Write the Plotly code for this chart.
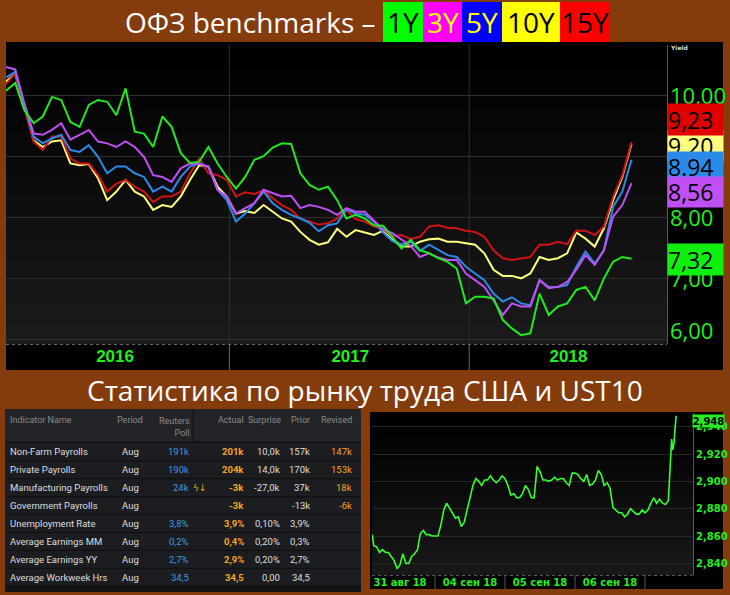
import plotly.graph_objects as go
import pandas as pd

W, H = 730, 595
def fx(x): return x / W
def fy(y): return 1 - y / H

# ---------------- OFZ benchmark yields (every 14 days) ----------------
ofz_start = "2016-01-27"
y1 = [10.07, 10.20, 9.75, 9.54, 9.65, 9.97, 9.92, 9.56, 9.48, 9.84,
      9.92, 9.89, 9.67, 10.11, 9.40, 9.37, 9.15, 9.65, 9.48, 9.05,
      8.89, 8.91, 9.15, 8.88, 8.66, 8.47, 8.66, 8.94, 9.00, 9.14,
      9.21, 9.20, 8.72, 8.53, 8.45, 8.50, 8.28, 7.98, 8.04, 7.98,
      7.87, 7.86, 7.68, 7.49, 7.63, 7.46, 7.41, 7.33, 7.27, 7.16,
      6.59, 6.70, 6.70, 6.67, 6.32, 6.18, 6.07, 6.10, 6.75, 6.40,
      6.54, 6.59, 6.81, 6.86, 6.64, 7.00, 7.27, 7.35, 7.32]
y3 = [10.46, 10.42, 9.86, 9.37, 9.35, 9.43, 9.54, 9.27, 9.35, 9.43,
      9.24, 9.21, 9.15, 9.24, 9.15, 8.99, 8.69, 8.66, 8.58, 8.80,
      8.88, 8.87, 8.83, 8.45, 8.34, 8.06, 8.15, 8.23, 8.45, 8.39,
      8.34, 8.35, 8.15, 8.20, 8.17, 8.12, 8.04, 8.15, 8.09, 8.09,
      7.95, 7.80, 7.74, 7.63, 7.53, 7.35, 7.41, 7.34, 7.30, 7.30,
      7.08, 6.97, 6.86, 6.64, 6.40, 6.59, 6.54, 6.54, 6.97, 6.84,
      6.86, 6.94, 7.14, 7.38, 7.22, 7.46, 8.01, 8.20, 8.56]
y5 = [10.29, 10.38, 9.84, 9.32, 9.21, 9.29, 9.35, 9.10, 9.07, 9.18,
      8.99, 8.72, 8.83, 8.83, 8.72, 8.66, 8.42, 8.50, 8.42, 8.66,
      8.83, 8.88, 8.83, 8.45, 8.28, 7.93, 8.06, 8.23, 8.42, 8.23,
      8.12, 8.04, 7.98, 7.91, 7.77, 7.87, 7.90, 8.13, 8.06, 8.04,
      7.93, 7.75, 7.61, 7.56, 7.60, 7.45, 7.55, 7.46, 7.38, 7.35,
      7.19, 7.08, 6.97, 6.75, 6.62, 6.69, 6.59, 6.56, 6.97, 6.86,
      6.86, 6.89, 7.19, 7.44, 7.24, 7.46, 8.17, 8.42, 8.94]
y10 = [10.22, 10.35, 9.81, 9.26, 9.15, 9.24, 9.26, 8.88, 8.85, 8.87,
       8.64, 8.28, 8.42, 8.61, 8.42, 8.34, 8.12, 8.20, 8.17, 8.34,
       8.61, 8.85, 8.83, 8.50, 8.34, 8.06, 8.10, 8.07, 8.20, 8.09,
       7.98, 7.93, 7.76, 7.63, 7.55, 7.59, 7.81, 7.68, 7.79, 7.75,
       7.71, 7.78, 7.63, 7.52, 7.52, 7.60, 7.64, 7.65, 7.60, 7.60,
       7.58, 7.55, 7.41, 7.14, 7.04, 7.04, 7.00, 7.08, 7.35, 7.30,
       7.33, 7.41, 7.75, 7.65, 7.52, 7.82, 8.28, 8.66, 9.20]
y15 = [10.18, 10.35, 9.81, 9.24, 9.10, 9.32, 9.32, 8.96, 8.88, 8.88,
       8.69, 8.42, 8.55, 8.61, 8.50, 8.42, 8.25, 8.34, 8.34, 8.42,
       8.72, 8.96, 8.72, 8.69, 8.61, 8.34, 8.41, 8.38, 8.44, 8.31,
       8.20, 8.12, 7.98, 7.93, 7.88, 7.90, 7.98, 8.12, 7.97, 7.93,
       7.85, 7.80, 7.69, 7.71, 7.64, 7.68, 7.85, 7.87, 7.83, 7.82,
       7.78, 7.76, 7.68, 7.46, 7.33, 7.30, 7.33, 7.35, 7.55, 7.55,
       7.60, 7.56, 7.78, 7.78, 7.71, 7.85, 8.34, 8.69, 9.23]
ofz_dates = pd.date_range(ofz_start, periods=len(y1), freq="14D")

year_tick_dates = ["2016-07-11", "2017-07-04", "2018-06-01"]
year_tick_text = ["2016", "2017", "2018"]
year_bounds = ["2017-01-01", "2018-01-01"]
yield_ticks = [6, 7, 8, 9, 10]
last_text = ["9.20", "9,23", "8.94", "8,56", "7,32"]

# ---------------- UST10 intraday yield ----------------
aug31 = [2.861, 2.853, 2.852, 2.848, 2.850, 2.848, 2.848, 2.845, 2.842, 2.836, 2.839,
         2.847, 2.840, 2.840, 2.845, 2.847, 2.850, 2.862, 2.864, 2.861, 2.861, 2.860]
sep04 = [2.860, 2.860, 2.868, 2.879, 2.884, 2.880, 2.877, 2.873, 2.874, 2.867, 2.870, 2.879,
         2.888, 2.897, 2.902, 2.900, 2.897, 2.901, 2.901, 2.904, 2.901, 2.899, 2.901, 2.904]
sep05 = [2.902, 2.897, 2.890, 2.891, 2.888, 2.888, 2.891, 2.897, 2.894, 2.888, 2.888, 2.911,
         2.907, 2.901, 2.901, 2.900, 2.901, 2.903, 2.901, 2.902, 2.902, 2.899, 2.897, 2.906]
sep06 = [2.906, 2.905, 2.902, 2.900, 2.905, 2.897, 2.898, 2.901, 2.908, 2.905, 2.897, 2.899,
         2.895, 2.881, 2.879, 2.877, 2.877, 2.874, 2.876, 2.880, 2.878, 2.876, 2.876, 2.879]
sep07 = [2.877, 2.879, 2.884, 2.888, 2.884, 2.887, 2.884, 2.883, 2.886, 2.901, 2.923,
         2.931, 2.923, 2.928, 2.938, 2.948]
aug31_times = ["02:30"] + [f"{h:02d}:00" for h in range(3, 24)]
full_day_times = [f"{h:02d}:00" for h in range(24)]
sep07_times = [f"{h:02d}:00" for h in range(8)] + ["08:00", "08:20", "08:48", "09:08",
                                                   "09:29", "09:56", "10:17", "10:40"]
ust_times = ([f"2018-08-31 {t}" for t in aug31_times]
             + [f"2018-09-04 {t}" for t in full_day_times]
             + [f"2018-09-05 {t}" for t in full_day_times]
             + [f"2018-09-06 {t}" for t in full_day_times]
             + [f"2018-09-07 {t}" for t in sep07_times])
ust_vals = aug31 + sep04 + sep05 + sep06 + sep07
ust_day_ticks = ["2018-08-31 12:00", "2018-09-04 12:00", "2018-09-05 12:00", "2018-09-06 12:00"]
ust_day_text = ["31 авг 18", "04 сен 18", "05 сен 18", "06 сен 18"]
ust_day_bounds = ["2018-09-04", "2018-09-05", "2018-09-06", "2018-09-07"]
ust_ticks = [2.84, 2.86, 2.88, 2.90, 2.92, 2.94]
ust_last = "2,948"

# ---------------- US payrolls table ----------------
col_headers = ["Indicator Name", "Period", "Reuters<br>Poll", "Actual", "Surprise", "Prior", "Revised"]
indicators = ["Non-Farm Payrolls", "Private Payrolls", "Manufacturing Payrolls", "Government Payrolls",
              "Unemployment Rate", "Average Earnings MM", "Average Earnings YY", "Average Workweek Hrs"]
period = ["Aug"] * 8
poll = ["191k", "190k", "24k", "", "3,8%", "0,2%", "2,7%", "34,5"]
actual = ["201k", "204k", "-3k", "-3k", "3,9%", "0,4%", "2,9%", "34,5"]
surprise = ["10,0k", "14,0k", "-27,0k", "", "0,10%", "0,20%", "0,20%", "0,00"]
prior = ["157k", "170k", "37k", "-13k", "3,9%", "0,3%", "2,7%", "34,5"]
revised = ["147k", "153k", "18k", "-6k", "", "", "", ""]
alert_row = 2
alert_icon = "ϟ↓"

BROWN = "#843C0C"
GREEN = "#22ee22"
TITLE_FONT = "Open Sans, Noto Sans, sans-serif"
TABLE_FONT = "Roboto, Liberation Sans, sans-serif"
BOLD_FONT = "DejaVu Sans, sans-serif"

fig = go.Figure()

series = [(y10, "#ffff80"), (y15, "#d01414"), (y5, "#2b8ae8"), (y3, "#c050f5"), (y1, "#22e822")]
for vals, col in series:
    fig.add_trace(go.Scatter(x=ofz_dates, y=vals, mode="lines", line=dict(color=col, width=2),
                             xaxis="x", yaxis="y", hoverinfo="skip"))

fig.add_trace(go.Scatter(x=ust_times, y=ust_vals, mode="lines", line=dict(color="#33ff33", width=1.6),
                         xaxis="x2", yaxis="y2", hoverinfo="skip"))

shapes = []
def rect(x0, y0, x1, y1, color, layer="below"):
    shapes.append(dict(type="rect", xref="paper", yref="paper", x0=fx(x0), x1=fx(x1),
                       y0=fy(y1), y1=fy(y0), fillcolor=color, line=dict(width=0), layer=layer))

def hline(x0, x1, y, color, dash="solid", layer="above"):
    shapes.append(dict(type="line", xref="paper", yref="paper", x0=fx(x0), x1=fx(x1), y0=fy(y),
                       y1=fy(y), line=dict(color=color, width=1, dash=dash), layer=layer))

def gradient(x0, y0, x1, y1, g0, g1, n=14):
    step = (y1 - y0) / n
    for i in range(n):
        g = int(round(g0 + (g1 - g0) * i / (n - 1)))
        rect(x0, y0 + i * step, x1, y0 + (i + 1) * step + 0.5, f"rgb({g},{g},{g})")

# panels
rect(6, 42, 723, 370, "#000000")
gradient(6, 45, 667, 344, 0, 26)
rect(370, 412, 723, 589, "#000000")
gradient(372, 413, 693, 575, 0, 24)

# table panel (header, body, row separators)
rect(5, 409, 361, 592, "#141416")
rect(5, 409, 361, 442, "#232428")
row_y0, row_h = 443, 17.9
rect(5, row_y0, 361, row_y0 + row_h * len(indicators), "#1c1d20")
hline(5, 361, 442, "#0c0c0e")
for i in range(1, len(indicators) + 1):
    hline(5, 361, row_y0 + row_h * i, "#0f0f11")
shapes.append(dict(type="line", xref="paper", yref="paper", x0=fx(193), x1=fx(193), y0=fy(442),
                   y1=fy(409), line=dict(color="#111113", width=1)))

# title boxes
title_boxes = [("1Y", 383, 423, "#00ff00", "#000000"), ("3Y", 423, 462, "#ff00ff", "#ffff00"),
               ("5Y", 462, 502, "#0000ff", "#ffff00"), ("10Y", 502, 560, "#ffff00", "#000000"),
               ("15Y", 560, 610, "#ff0000", "#000000")]
for _, x0, x1, fc, _tc in title_boxes:
    rect(x0, 2, x1, 42, fc)

# year separators
for d in year_bounds:
    shapes.append(dict(type="line", xref="x", yref="paper", x0=d, x1=d, y0=fy(344), y1=fy(45),
                       line=dict(color="#2e2e2e", width=1), layer="below"))
    shapes.append(dict(type="line", xref="x", yref="paper", x0=d, x1=d, y0=fy(370), y1=fy(344),
                       line=dict(color="#6a6a6a", width=1)))
hline(6, 667, 344.5, "#666666", dash="dot")
# UST day separators
for d in ust_day_bounds:
    shapes.append(dict(type="line", xref="x2", yref="paper", x0=d, x1=d, y0=fy(589), y1=fy(575),
                       line=dict(color="#555555", width=1)))
hline(372, 693, 575.5, "#555555", dash="dot")

ann = []
def note(text, x, y, xa="center", ya="middle", **kw):
    d = dict(text=text, x=fx(x), y=fy(y), xref="paper", yref="paper", xanchor=xa, yanchor=ya,
             showarrow=False)
    d.update(kw)
    ann.append(d)

note("ОФЗ benchmarks –", 378, 22, xa="right", font=dict(family=TITLE_FONT, size=28, color="#ffffff"))
for t, x0, x1, _fc, tc in title_boxes:
    note(t, (x0 + x1) / 2, 22, font=dict(family=TITLE_FONT, size=28, color=tc))
note("Статистика по рынку труда США и UST10", 365, 390,
     font=dict(family=TITLE_FONT, size=28, color="#ffffff"))
note("<b>Yield</b>", 668, 47.5, xa="left", font=dict(family=BOLD_FONT, size=6, color="#dddddd"))

# y-axis labels of OFZ chart (placed on the axis scale)
for v in yield_ticks:
    ann.append(dict(text=f"{v:.2f}".replace(".", ","), x=fx(668), y=v, xref="paper", yref="y",
                    xanchor="left", yanchor="middle", showarrow=False,
                    yshift=9 if v == min(yield_ticks) else 0,
                    font=dict(family=TITLE_FONT, size=22, color=GREEN)))

box_specs = [(146, 30, "#ffff80"), (120, 31, "#e00000"), (167, 30, "#2b8ae8"),
             (192, 30, "#c050f5"), (259.5, 31, "#10f010")]
for txt, (cy, hh, bg) in zip(last_text, box_specs):
    note(txt, 667, cy, xa="left", width=55, height=hh, align="left", bgcolor=bg, borderpad=0,
         font=dict(family=TITLE_FONT, size=23, color="#000000"))

# y-axis labels of UST chart
for v in ust_ticks:
    ann.append(dict(text=f"<b>{v:.3f}</b>".replace(".", ","), x=fx(694), y=v, xref="paper", yref="y2",
                    xanchor="left", yanchor="middle", showarrow=False,
                    font=dict(family=BOLD_FONT, size=10, color=GREEN)))
note(f"<b>{ust_last}</b>", 692, 420.5, xa="left", width=31, height=12, bgcolor="#22ee22", borderpad=0,
     font=dict(family=BOLD_FONT, size=10, color="#000000"))

# table text
hdr_font = dict(family=TABLE_FONT, size=9, color="#8a8a8a")
hdr_pos = [(8, "left"), (130, "center"), (192, "right"), (246, "right"), (283, "right"),
           (312, "right"), (354, "right")]
for txt, (x, xa) in zip(col_headers, hdr_pos):
    if "<br>" in txt:
        note(txt, x, 413.5, xa=xa, ya="top", align="right", font=hdr_font)
    else:
        note(txt, x, 420, xa=xa, font=hdr_font)

WHITE_T, BLUE_T, ORANGE_T = "#dedede", "#3d9be0", "#f5a623"
columns = [(indicators, 8, "left", WHITE_T, False), (period, 130, "center", WHITE_T, False),
           (poll, 191, "right", BLUE_T, False), (actual, 246, "right", ORANGE_T, True),
           (surprise, 282, "right", WHITE_T, False), (prior, 312, "right", WHITE_T, False),
           (revised, 354, "right", ORANGE_T, False)]
for vals, x, xa, col, bold in columns:
    for i, v in enumerate(vals):
        if not v:
            continue
        note(f"<b>{v}</b>" if bold else v, x, row_y0 + row_h * (i + 0.5), xa=xa,
             font=dict(family=TABLE_FONT, size=9.5, color=col))
note(alert_icon, 199, row_y0 + row_h * (alert_row + 0.5),
     font=dict(family=BOLD_FONT, size=9, color=ORANGE_T))

fig.update_layout(
    width=W, height=H, margin=dict(l=0, r=0, t=0, b=0),
    paper_bgcolor=BROWN, plot_bgcolor="rgba(0,0,0,0)", showlegend=False,
    shapes=shapes, annotations=ann,
    xaxis=dict(domain=[fx(6), fx(667)], anchor="y", type="date",
               range=["2016-01-27", "2018-10-29"], showgrid=False, zeroline=False,
               tickmode="array", tickvals=year_tick_dates, ticktext=year_tick_text, ticks="",
               tickfont=dict(family="Liberation Sans, Arial, sans-serif", size=17, color=GREEN,
                             weight="bold"),
               showline=False, fixedrange=True),
    yaxis=dict(domain=[fy(344), fy(45)], anchor="x", side="right", range=[5.925, 10.82],
               tickmode="array", tickvals=yield_ticks, showticklabels=False, ticks="",
               gridcolor="#2e2e2e", zeroline=False, showline=True, linecolor="#5a5a5a"),
    xaxis2=dict(domain=[fx(372), fx(693)], anchor="y2", type="date",
                range=["2018-08-31 02:24", "2018-09-07 16:27"],
                rangebreaks=[dict(bounds=["sat", "mon"]), dict(values=["2018-09-03"])],
                showgrid=False, zeroline=False, tickmode="array", tickvals=ust_day_ticks,
                ticktext=ust_day_text, ticks="",
                tickfont=dict(family=BOLD_FONT, size=10, color=GREEN, weight="bold")),
    yaxis2=dict(domain=[fy(575), fy(413)], anchor="x2", side="right", range=[2.8315, 2.950],
                tickmode="array", tickvals=ust_ticks, showticklabels=False, ticks="",
                gridcolor="#262626", zeroline=False, showline=True, linecolor="#5a5a5a"),
)

fig.write_html("out.html", config={"displayModeBar": False},
               post_script="document.body.style.margin='0';document.body.style.padding='0';")
